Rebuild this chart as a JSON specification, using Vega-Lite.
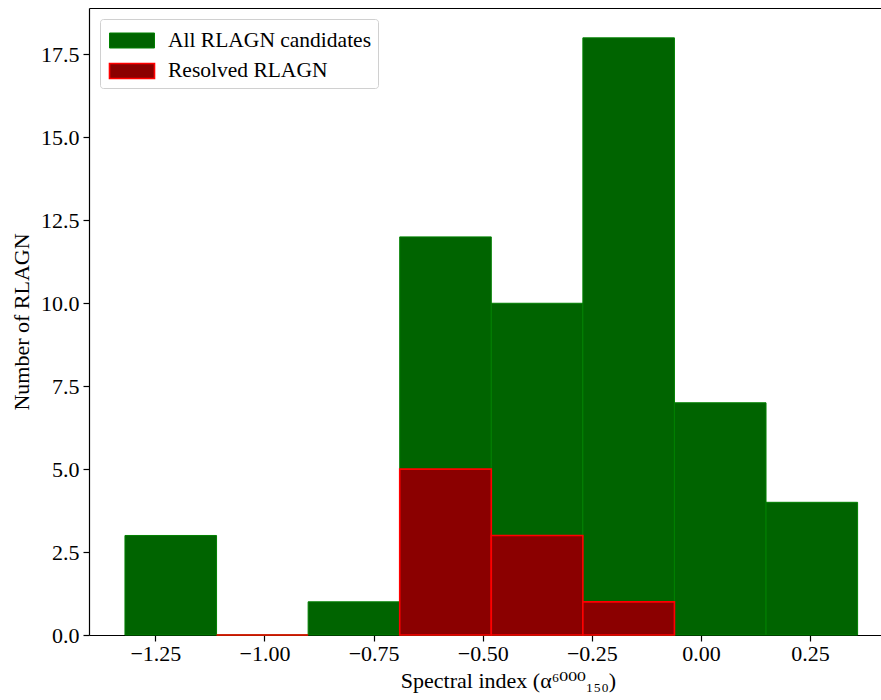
{
  "$schema": "https://vega.github.io/schema/vega-lite/v6.json",
  "autosize": {"type": "none"},
  "padding": {"left": 89, "top": 8, "right": 0, "bottom": 65},
  "width": 792,
  "height": 627,
  "background": "white",
  "config": {
    "view": {"stroke": null},
    "font": "Liberation Serif",
    "axis": {
      "labelFont": "Liberation Serif",
      "titleFont": "Liberation Serif, DejaVu Serif",
      "labelFontSize": 22,
      "titleFontSize": 22,
      "titleFontWeight": "normal",
      "labelColor": "black",
      "titleColor": "black",
      "domainColor": "black",
      "tickColor": "black",
      "domainWidth": 1.2,
      "tickWidth": 1.2,
      "tickSize": 6,
      "grid": false
    },
    "legend": {
      "labelFont": "Liberation Serif",
      "labelFontSize": 21.5,
      "labelColor": "black"
    }
  },
  "data": {
    "values": [
      {"bin_start": -1.3196, "bin_end": -1.1098, "count": 3, "series": "All RLAGN candidates"},
      {"bin_start": -1.1098, "bin_end": -0.9000, "count": 0, "series": "All RLAGN candidates"},
      {"bin_start": -0.9000, "bin_end": -0.6902, "count": 1, "series": "All RLAGN candidates"},
      {"bin_start": -0.6902, "bin_end": -0.4804, "count": 12, "series": "All RLAGN candidates"},
      {"bin_start": -0.4804, "bin_end": -0.2706, "count": 10, "series": "All RLAGN candidates"},
      {"bin_start": -0.2706, "bin_end": -0.0608, "count": 18, "series": "All RLAGN candidates"},
      {"bin_start": -0.0608, "bin_end": 0.1490, "count": 7, "series": "All RLAGN candidates"},
      {"bin_start": 0.1490, "bin_end": 0.3588, "count": 4, "series": "All RLAGN candidates"},
      {"bin_start": -1.1098, "bin_end": -0.9000, "count": 0, "series": "Resolved RLAGN"},
      {"bin_start": -0.6902, "bin_end": -0.4804, "count": 5, "series": "Resolved RLAGN"},
      {"bin_start": -0.4804, "bin_end": -0.2706, "count": 3, "series": "Resolved RLAGN"},
      {"bin_start": -0.2706, "bin_end": -0.0608, "count": 1, "series": "Resolved RLAGN"}
    ]
  },
  "layer": [
    {
      "mark": {"type": "bar"},
      "encoding": {
        "x": {
          "field": "bin_start",
          "type": "quantitative",
          "scale": {"domain": [-1.402, 0.4124], "nice": false, "zero": false},
          "axis": {
            "orient": "bottom",
            "values": [-1.25, -1.0, -0.75, -0.5, -0.25, 0, 0.25],
            "format": ".2f",
            "labelPadding": 2,
            "title": "Spectral index (α⁶⁰⁰⁰₁₅₀)",
            "titleX": 419,
            "titlePadding": 6
          }
        },
        "x2": {"field": "bin_end"},
        "y": {
          "field": "count",
          "type": "quantitative",
          "stack": null,
          "scale": {"domain": [0, 18.9], "nice": false},
          "axis": {
            "values": [0, 2.5, 5, 7.5, 10, 12.5, 15, 17.5],
            "format": ".1f",
            "labelPadding": 4,
            "title": "Number of RLAGN",
            "titlePadding": 7
          }
        },
        "y2": {"datum": 0},
        "fill": {
          "field": "series",
          "type": "nominal",
          "scale": {"domain": ["All RLAGN candidates", "Resolved RLAGN"], "range": ["#006400", "#8b0000"]},
          "legend": {
            "title": null,
            "orient": "top-left",
            "offset": 10.5,
            "symbolType": "M-1.5,-0.5H1.5V0.5H-1.5Z",
            "symbolSize": 900,
            "symbolStrokeWidth": 1.2,
            "symbolOffset": 10,
            "labelOffset": 20,
            "labelLimit": 400,
            "rowPadding": 4,
            "padding": 6,
            "strokeColor": "#d0d0d0",
            "fillColor": "white",
            "cornerRadius": 3
          }
        },
        "stroke": {
          "field": "series",
          "type": "nominal",
          "scale": {"domain": ["All RLAGN candidates", "Resolved RLAGN"], "range": ["#008000", "#ff0000"]}
        },
        "strokeWidth": {
          "field": "series",
          "type": "nominal",
          "scale": {"domain": ["All RLAGN candidates", "Resolved RLAGN"], "range": [1, 1.6]},
          "legend": null
        }
      }
    },
    {
      "mark": {"type": "rule", "opacity": 0},
      "encoding": {
        "x": {
          "field": "bin_start",
          "type": "quantitative",
          "axis": {"orient": "top", "labels": false, "ticks": false, "title": null, "domain": true}
        }
      }
    }
  ],
  "resolve": {"axis": {"x": "independent"}}
}
